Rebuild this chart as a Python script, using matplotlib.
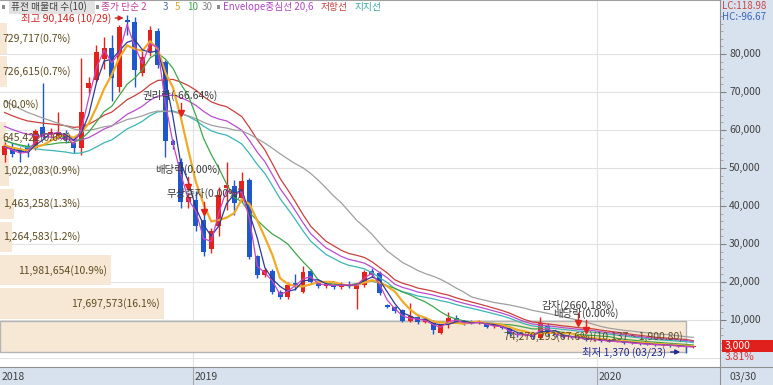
import numpy as np
import pandas as pd
import matplotlib
matplotlib.use('Agg')
import matplotlib.pyplot as plt
from matplotlib.patches import Rectangle

plt.rcParams['font.family'] = ['Noto Sans CJK KR', 'DejaVu Sans']

# weekly candles, in thousand won (first week: early July 2018, last: 03/30 2020)
opens = [53.4, 55.6, 55.0, 55.8, 55.2, 60.8, 58.6, 58.2, 59.2, 56.5,
         55.2, 71.1, 73.1, 78.6, 81.7, 71.4, 88.9, 88.4, 75.1, 80.4,
         86.1, 77.9, 57.1, 51.6, 41.1, 41.6, 36.3, 28.8, 34.8, 44.6,
         45.2, 42.0, 46.8, 26.8, 21.8, 23.0, 17.4, 16.0, 19.7, 17.4,
         23.0, 20.0, 19.0, 19.2, 18.6, 19.6, 18.1, 19.2, 22.9, 22.4,
         13.9, 13.5, 12.6, 9.8, 10.9, 9.5, 9.5, 6.7, 9.1, 10.4,
         9.7, 9.8, 9.2, 9.1, 8.4, 8.6, 8.0, 6.4, 6.0, 6.2,
         5.2, 8.5, 6.5, 6.0, 5.6, 5.5, 5.2, 4.8, 4.9, 4.5,
         4.3, 4.4, 4.0, 3.9, 3.7, 3.6, 3.4, 3.5, 3.2, 3.1, 2.9]
highs = [56.8, 56.5, 55.5, 56.5, 60.3, 72.3, 60.5, 64.7, 60.0, 57.5,
         79.0, 73.9, 82.4, 84.4, 85.0, 87.5, 90.146, 89.7, 80.8, 87.4,
         86.8, 78.5, 57.5, 52.5, 43.4, 43.9, 38.9, 34.2, 45.0, 51.6,
         46.8, 49.0, 47.3, 27.2, 23.7, 23.5, 18.0, 19.9, 22.1, 24.3,
         23.5, 20.8, 20.3, 19.7, 20.0, 20.3, 19.8, 23.2, 23.7, 22.9,
         14.3, 13.7, 13.0, 14.4, 11.5, 10.9, 9.9, 9.0, 12.2, 11.3,
         10.0, 10.1, 9.9, 9.4, 9.0, 8.8, 8.2, 6.8, 6.6, 6.4,
         10.7, 9.1, 6.8, 6.3, 5.9, 5.7, 5.4, 5.1, 5.0, 4.7,
         4.6, 4.5, 4.2, 4.1, 3.9, 3.8, 3.7, 3.6, 3.3, 3.2, 3.1]
lows = [51.5, 52.8, 51.6, 53.0, 54.8, 57.9, 57.8, 57.5, 56.5, 54.0,
        53.4, 69.7, 72.6, 76.0, 67.7, 70.0, 85.0, 71.4, 74.3, 79.4,
        76.3, 53.0, 55.0, 39.4, 39.5, 33.4, 26.8, 27.5, 32.0, 38.9,
        37.5, 41.0, 26.0, 21.0, 21.3, 16.8, 15.4, 15.4, 17.9, 17.0,
        19.7, 18.4, 18.4, 18.2, 18.2, 18.4, 12.8, 18.8, 21.3, 16.6,
        13.1, 11.9, 9.5, 9.5, 9.0, 9.2, 6.2, 6.4, 7.8, 9.2,
        8.8, 8.9, 9.0, 7.9, 8.0, 7.6, 5.9, 5.6, 5.7, 5.0,
        4.9, 5.9, 5.5, 5.3, 5.2, 4.9, 4.6, 4.5, 4.3, 4.1,
        4.1, 3.8, 3.7, 3.5, 3.4, 3.2, 3.2, 3.0, 2.9, 1.37, 2.75]
closes = [55.8, 53.8, 54.0, 54.3, 59.7, 58.2, 59.5, 59.4, 57.3, 55.2,
          64.7, 72.3, 80.4, 81.7, 73.7, 87.1, 88.4, 75.7, 79.2, 86.3,
          77.1, 57.1, 56.0, 41.1, 42.4, 34.8, 28.0, 33.4, 42.9, 45.5,
          40.8, 46.6, 26.6, 21.8, 23.1, 17.4, 16.0, 19.2, 18.9, 22.7,
          20.1, 18.9, 19.6, 18.6, 19.6, 18.9, 19.4, 22.7, 21.8, 17.0,
          13.5, 12.4, 9.8, 11.0, 9.5, 10.2, 7.4, 8.7, 10.4, 9.5,
          9.1, 9.2, 9.6, 8.2, 8.6, 8.0, 6.2, 6.0, 6.2, 5.4,
          9.1, 6.5, 6.0, 5.6, 5.5, 5.2, 4.8, 4.9, 4.5, 4.3,
          4.4, 4.0, 3.9, 3.7, 3.6, 3.4, 3.5, 3.2, 3.1, 2.89, 3.0]
# closes before the first shown week, only used to start the averages
prior_close = [85, 84, 83, 82, 81, 80, 80, 79, 78, 78,
               70, 68, 66, 65, 64, 63, 64, 62, 63, 62,
               60, 59, 58, 58, 57, 57, 56, 56, 55]

# 퓨전 매물대 (10 price bands, bottom to top)
band_volume = [74270293, 17697573, 11981654, 1264583, 1463258,
               1022083, 645422, 0, 726615, 729717]
band_pct = ['67.6%', '16.1%', '10.9%', '1.2%', '1.3%',
            '0.9%', '0.6%', '0.0%', '0.7%', '0.7%']
band_lo, band_hi = 1370, 88400

events = [(23, '권리락(-66.64%)', 64500, 69200),
          (24, '배당락(0.00%)', 45000, 49700),
          (26, '무상증자(0.00%)', 38400, 43400),
          (75, '감자(2660.18%)', 9200, 13900),
          (76, '배당락(0.00%)', 7400, 11800)]

o = np.array(opens) * 1000
h = np.array(highs) * 1000
l = np.array(lows) * 1000
c = np.array(closes) * 1000
n = len(c)
idx = np.arange(n)

RED = '#e4221c'
BLUE = '#1f58cc'

W, H = 773, 385
def box(x0, y0, x1, y1):
    return [x0 / W, 1 - y1 / H, (x1 - x0) / W, (y1 - y0) / H]

fig = plt.figure(figsize=(7.73, 3.85), dpi=100)
ax = fig.add_axes(box(0, 0, 720, 367))
axr = fig.add_axes(box(720, 0, 773, 367))
axb = fig.add_axes(box(0, 367, 720, 385))
axc = fig.add_axes(box(720, 367, 773, 385))

XL = (-0.61, 93.5)
YL = (-2370, 94200)
ax.set_xlim(XL)
ax.set_ylim(YL)
ax.set_xticks([])
ax.set_yticks([])
for s in ['left', 'bottom', 'right']:
    ax.spines[s].set_visible(False)
ax.spines['top'].set_color('#a0a0a0')

# grid
for v in range(0, 90000, 10000):
    ax.axhline(v, color='#e2e2e2', lw=0.8, zorder=0)
year_x = [24.6, 77.4]
for xv in year_x:
    ax.axvline(xv, color='#e2e2e2', lw=0.8, zorder=0)

# volume profile bands
bw = (band_hi - band_lo) / 10
centers = band_lo + bw * (np.arange(10) + 0.5)
vmax = max(band_volume)
lengths = np.array(band_volume) / vmax * 89.7
ax.barh(centers, lengths, height=bw * 0.93, left=XL[0], color='#f7e8d6', zorder=0.5)
k = int(np.argmax(band_volume))
ax.add_patch(Rectangle((XL[0], centers[k] - bw * 0.465), lengths[k], bw * 0.93,
                       fill=False, edgecolor='#b4b4b4', lw=1, zorder=0.6))
for i in range(10):
    txt = '{:,}({})'.format(band_volume[i], band_pct[i])
    if i == k:
        txt += '(10,137 ~ 1,900.80)'
    if lengths[i] * 7.65 > 60:
        ax.text(XL[0] + lengths[i] - 0.5, centers[i], txt, ha='right', va='center',
                fontsize=7.5, color='#5e4c20', zorder=5)
    else:
        ax.text(-0.25, centers[i], txt, ha='left', va='center',
                fontsize=7.5, color='#5e4c20', zorder=5)

# candles
cols = [RED if c[i] >= o[i] else BLUE for i in range(n)]
ax.vlines(idx, l, h, colors=cols, lw=1, zorder=2)
body_lo = np.minimum(o, c)
body_h = np.maximum(np.abs(c - o), 350)
ax.bar(idx, body_h, bottom=body_lo, width=0.64, color=cols, zorder=3)

# moving averages and envelope
allc = pd.Series(np.concatenate([np.array(prior_close) * 1000, c]))
m = len(prior_close)
def ma(p):
    return allc.rolling(p, min_periods=1).mean().values[m:]
ma20 = ma(20)
ax.plot(idx, ma20 * 1.06, color='#c8413c', lw=0.9, zorder=4)
ax.plot(idx, ma20, color='#b84cd0', lw=0.9, zorder=4)
ax.plot(idx, ma20 * 0.94, color='#3cb4b4', lw=0.9, zorder=4)
ax.plot(idx, ma(30), color='#a0a0a0', lw=0.9, zorder=4)
ax.plot(idx, ma(10), color='#3ea64a', lw=0.9, zorder=4)
ax.plot(idx, ma(5), color='#f0aa28', lw=1.6, zorder=4)
ax.plot(idx, ma(3), color='#2a3c96', lw=0.9, zorder=4)
ax.plot(idx, ma(2), color='#cc44c0', lw=0.9, zorder=4)

# events
for ei, name, mark_y, lab_y in events:
    ax.plot([ei, ei], [mark_y, mark_y + 2600], color=RED, lw=1, zorder=6)
    ax.plot(ei, mark_y, marker='v', color=RED, ms=5, zorder=6)
    ax.text(ei, lab_y, name, ha='center', va='center', fontsize=7.5, color='#3a3a3a', zorder=7)

# high / low
hi_i = int(np.argmax(h))
ax.annotate('최고 {:,} (10/29)'.format(int(round(h[hi_i]))), xy=(hi_i - 0.45, 89460),
            xytext=(13.9, 89460), ha='right', va='center', fontsize=7.5, color='#d42020',
            arrowprops=dict(arrowstyle='-|>', color='#d42020', lw=1, mutation_scale=7,
                            shrinkA=1, shrinkB=0), zorder=7)
lo_i = int(np.argmin(l))
ax.annotate('최저 {:,} (03/23)'.format(int(round(l[lo_i]))), xy=(lo_i - 0.7, 1580),
            xytext=(86.5, 1580), ha='right', va='center', fontsize=7.5, color='#1e2a9a',
            arrowprops=dict(arrowstyle='-|>', color='#1e2a9a', lw=1, mutation_scale=7,
                            shrinkA=1, shrinkB=0), zorder=7)

# header legend
ty = 1 - 7 / 367
def htxt(px, s, col):
    ax.text(px / 720, ty, s, transform=ax.transAxes, fontsize=7, color=col,
            va='center', ha='left', zorder=8)
ax.add_patch(Rectangle((9 / 720, 1 - 14 / 367), 86 / 720, 13 / 367, transform=ax.transAxes,
                       facecolor='#e2e2e2', edgecolor='none', zorder=7))
for px in [2, 96, 217]:
    ax.add_patch(Rectangle((px / 720, 1 - 9 / 367), 3 / 720, 4 / 367, transform=ax.transAxes,
                           facecolor='#8a8a8a', edgecolor='none', zorder=8))
htxt(11, '퓨전 매물대 수(10)', '#404040')
htxt(101, '종가 단순 2', '#c43c9c')
htxt(163, '3', '#4a64a8')
htxt(175, '5', '#d8a424')
htxt(187, '10', '#3ea64a')
htxt(202, '30', '#888888')
htxt(223, 'Envelope중심선 20,6', '#b044c4')
htxt(321, '저항선', '#c83c3c')
htxt(355, '지지선', '#3aa6a6')

# right price panel
PANEL = '#d8e2ee'
axr.set_facecolor(PANEL)
axr.set_ylim(YL)
axr.set_xlim(0, 1)
axr.set_xticks([])
axr.yaxis.tick_left()
axr.set_yticks(range(10000, 90000, 10000))
axr.set_yticks(range(2000, 92000, 2000), minor=True)
axr.tick_params(axis='y', which='major', direction='in', length=4, color='#808080', labelleft=False)
axr.tick_params(axis='y', which='minor', direction='in', length=2, color='#a0a0a0')
for s in ['top', 'right', 'bottom']:
    axr.spines[s].set_visible(False)
axr.spines['left'].set_color('#909090')
for v in range(10000, 90000, 10000):
    axr.text(0.17, v, '{:,}'.format(v), fontsize=7.5, color='#404040', va='center', ha='left')
axr.text(0.04, 1 - 6 / 367, 'LC:118.98', transform=axr.transAxes, fontsize=7,
         color='#cc4444', va='center', ha='left')
axr.text(0.04, 1 - 17 / 367, 'HC:-96.67', transform=axr.transAxes, fontsize=7,
         color='#3c64c0', va='center', ha='left')
axr.add_patch(Rectangle((0.03, 1580), 0.97, 3150, facecolor='#e0201c', edgecolor='none', zorder=3))
axr.text(0.08, 3150, '{:,}'.format(int(c[-1])), fontsize=7.5, color='white', va='center', ha='left', zorder=4)
axr.text(0.08, 260, '{:.2f}%'.format((c[-1] / c[-2] - 1) * 100), fontsize=7.5,
         color='#d83030', va='center', ha='left', zorder=4)

# bottom date panel
axb.set_facecolor(PANEL)
axb.set_xlim(XL)
axb.set_ylim(0, 1)
axb.set_xticks([])
axb.set_yticks([])
for s in ['left', 'right', 'bottom']:
    axb.spines[s].set_visible(False)
axb.spines['top'].set_color('#909090')
for xv, lab in zip([-0.61] + year_x, ['2018', '2019', '2020']):
    if xv > 0:
        axb.axvline(xv, color='#a8a8a8', lw=0.8)
    axb.text(xv + 0.25, 0.45, lab, fontsize=7.5, color='#404040', va='center', ha='left')

axc.set_facecolor(PANEL)
axc.set_xticks([])
axc.set_yticks([])
for s in ['right', 'bottom']:
    axc.spines[s].set_visible(False)
axc.spines['top'].set_color('#909090')
axc.spines['left'].set_color('#909090')
axc.text(0.17, 0.45, '03/30', transform=axc.transAxes, fontsize=7.5, color='#404040',
         va='center', ha='left')

fig.savefig('out.png', dpi=100)
